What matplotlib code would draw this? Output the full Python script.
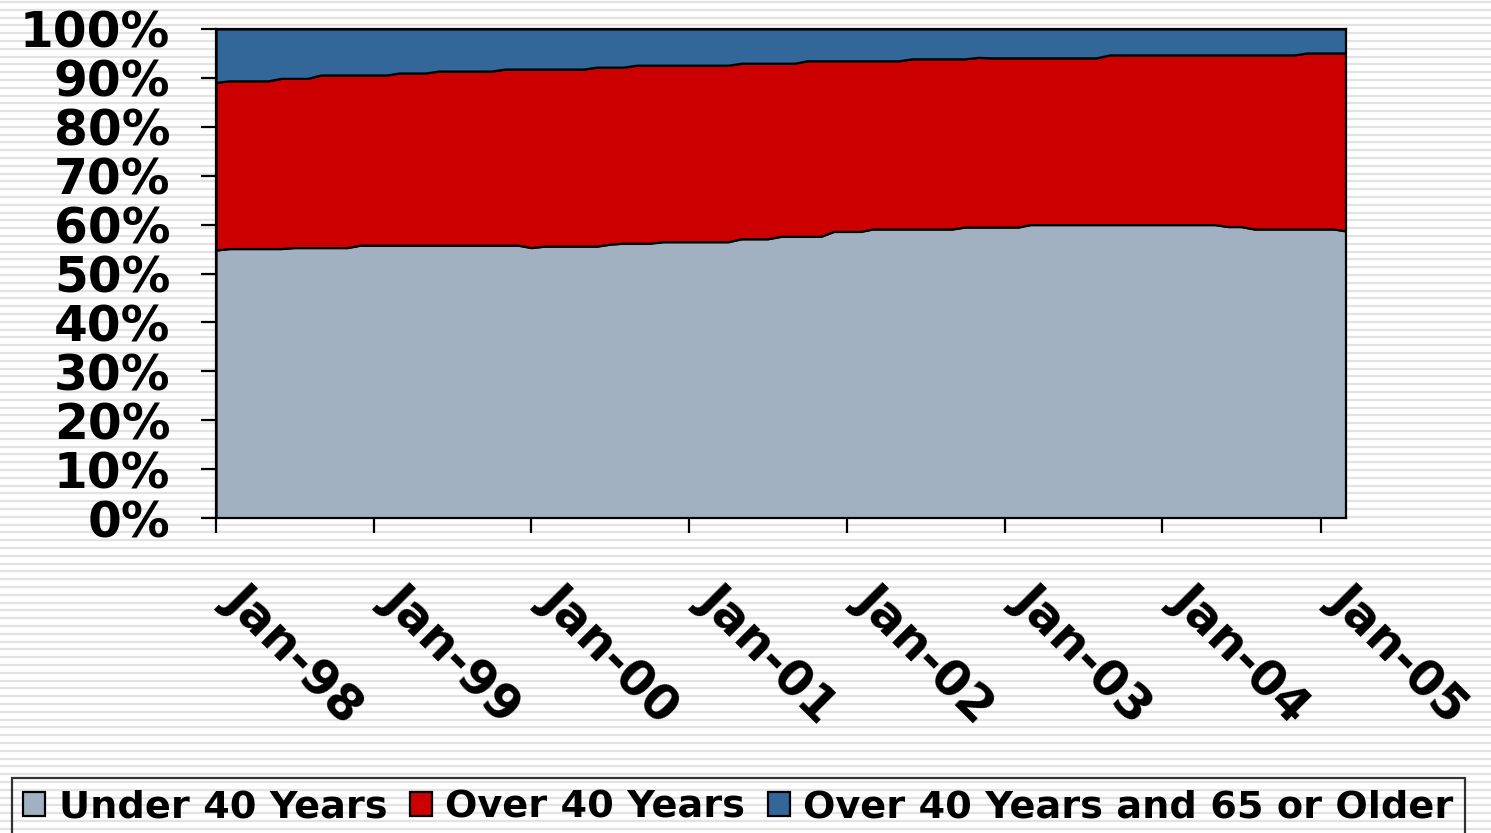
import numpy as np
import pandas as pd
import matplotlib
matplotlib.use("Agg")
import matplotlib.pyplot as plt
import matplotlib.transforms as mtransforms

# monthly share of the group, Jan-98 .. Mar-05 (percent)
months = pd.date_range("1998-01-01", periods=87, freq="MS")

under_40 = [
    54.8, 55.1, 55.1, 55.1, 55.1, 55.1, 55.3, 55.3, 55.3, 55.3, 55.3, 55.8,
    55.8, 55.8, 55.8, 55.8, 55.8, 55.8, 55.8, 55.8, 55.8, 55.8, 55.8, 55.8,
    55.3, 55.6, 55.6, 55.6, 55.6, 55.6, 56.0, 56.2, 56.2, 56.2, 56.5, 56.5,
    56.5, 56.5, 56.5, 56.5, 57.1, 57.1, 57.1, 57.6, 57.6, 57.6, 57.6, 58.6,
    58.6, 58.6, 59.1, 59.1, 59.1, 59.1, 59.1, 59.1, 59.1, 59.5, 59.5, 59.5,
    59.5, 59.5, 60.0, 60.0, 60.0, 60.0, 60.0, 60.0, 60.0, 60.0, 60.0, 60.0,
    60.0, 60.0, 60.0, 60.0, 60.0, 59.6, 59.6, 59.1, 59.1, 59.1, 59.1, 59.1,
    59.1, 59.1, 58.7,
]
over_40 = [
    34.3, 34.3, 34.3, 34.3, 34.3, 34.8, 34.6, 34.6, 35.3, 35.3, 35.3, 34.8,
    34.8, 34.8, 35.2, 35.2, 35.2, 35.6, 35.6, 35.6, 35.6, 35.6, 36.0, 36.0,
    36.5, 36.2, 36.2, 36.2, 36.2, 36.6, 36.2, 36.0, 36.4, 36.4, 36.1, 36.1,
    36.1, 36.1, 36.1, 36.1, 35.9, 35.9, 35.9, 35.4, 35.4, 35.9, 35.9, 34.9,
    34.9, 34.9, 34.4, 34.4, 34.4, 34.8, 34.8, 34.8, 34.8, 34.4, 34.7, 34.6,
    34.6, 34.6, 34.1, 34.1, 34.1, 34.1, 34.1, 34.1, 34.7, 34.7, 34.7, 34.7,
    34.7, 34.7, 34.7, 34.7, 34.7, 35.1, 35.1, 35.6, 35.6, 35.6, 35.6, 36.0,
    36.0, 36.0, 36.4,
]
over_65 = [
    10.9, 10.6, 10.6, 10.6, 10.6, 10.1, 10.1, 10.1, 9.4, 9.4, 9.4, 9.4,
    9.4, 9.4, 9.0, 9.0, 9.0, 8.6, 8.6, 8.6, 8.6, 8.6, 8.2, 8.2,
    8.2, 8.2, 8.2, 8.2, 8.2, 7.8, 7.8, 7.8, 7.4, 7.4, 7.4, 7.4,
    7.4, 7.4, 7.4, 7.4, 7.0, 7.0, 7.0, 7.0, 7.0, 6.5, 6.5, 6.5,
    6.5, 6.5, 6.5, 6.5, 6.5, 6.1, 6.1, 6.1, 6.1, 6.1, 5.8, 5.9,
    5.9, 5.9, 5.9, 5.9, 5.9, 5.9, 5.9, 5.9, 5.3, 5.3, 5.3, 5.3,
    5.3, 5.3, 5.3, 5.3, 5.3, 5.3, 5.3, 5.3, 5.3, 5.3, 5.3, 4.9,
    4.9, 4.9, 4.9,
]

series_names = ["Under 40 Years", "Over 40 Years", "Over 40 Years and 65 or Older"]
colors = ["#a2b1c1", "#cc0000", "#336699"]
tick_dates = pd.to_datetime(["1998-01-01", "1999-01-01", "2000-01-01", "2001-01-01",
                             "2002-01-01", "2003-01-01", "2004-01-01", "2005-01-01"])
tick_labels = ["Jan-98", "Jan-99", "Jan-00", "Jan-01", "Jan-02", "Jan-03", "Jan-04", "Jan-05"]

plt.rcParams["font.family"] = "DejaVu Sans"
plt.rcParams["font.weight"] = "bold"

W, H = 1491, 833
fig = plt.figure(figsize=(W / 100, H / 100), dpi=100)
fig.patch.set_facecolor("white")

# striped background over the whole figure
bg = fig.add_axes([0, 0, 1, 1], zorder=-5)
bg.set_xlim(0, 1)
bg.set_ylim(H, 0)
bg.axis("off")
bg.hlines(np.arange(2, H, 7.8), 0, 1, color="#e2e2e2", linewidth=1.6)

ax = fig.add_axes([216 / W, 1 - 518 / H, (1346 - 216) / W, (518 - 29) / H])
ax.set_facecolor("none")

polys = ax.stackplot(months, under_40, over_40, over_65, colors=colors,
                     labels=series_names, edgecolor="black", linewidth=1.6)

ax.set_xlim(months[0], months[-1])
ax.set_ylim(0, 100)
ax.set_yticks(np.arange(0, 101, 10))
ax.set_yticklabels([f"{v}%" for v in range(0, 101, 10)], fontsize=35, fontweight="bold")
ax.set_xticks(tick_dates)
ax.set_xticklabels(tick_labels, fontsize=35, fontweight="bold",
                   rotation=-45, ha="left", va="top")
offset = mtransforms.ScaledTranslation(31 / 100, 0, fig.dpi_scale_trans)
for lab in ax.get_xticklabels():
    lab.set_transform(lab.get_transform() + offset)

ax.tick_params(axis="both", direction="out", length=11, width=1.6, color="black")
ax.tick_params(axis="y", pad=22)
ax.tick_params(axis="x", pad=30)
for sp in ax.spines.values():
    sp.set_color("black")
    sp.set_linewidth(1.6)

leg = fig.legend(handles=polys, labels=series_names, loc="upper left",
                 bbox_to_anchor=(12 / W, 1 - 778 / H), ncol=3, fontsize=27.5,
                 frameon=True, fancybox=False, edgecolor="black", facecolor="none",
                 handlelength=0.57, handleheight=0.57, handletextpad=0.35,
                 columnspacing=0.6, borderpad=0.3, borderaxespad=0)
leg.get_frame().set_linewidth(1.6)
for t in leg.get_texts():
    t.set_fontweight("bold")

fig.savefig("out.png", dpi=100)
